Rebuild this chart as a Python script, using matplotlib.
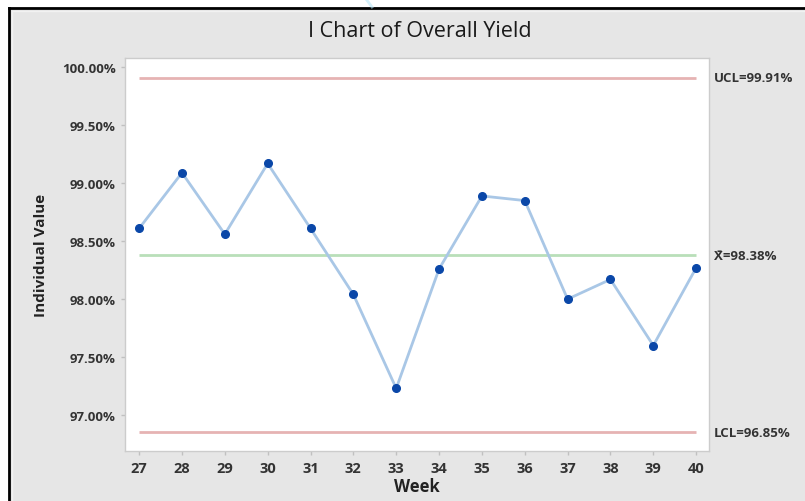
import matplotlib
matplotlib.use("Agg")
import matplotlib.pyplot as plt
from matplotlib.lines import Line2D
from matplotlib.patches import Rectangle
from matplotlib.ticker import FuncFormatter

weeks = [27, 28, 29, 30, 31, 32, 33, 34, 35, 36, 37, 38, 39, 40]
yield_pct = [98.61, 99.09, 98.56, 99.17, 98.61, 98.04, 97.23, 98.26,
             98.89, 98.85, 98.00, 98.17, 97.60, 98.27]
ucl = 99.91
mean = 98.38
lcl = 96.85
yticks = [97.0, 97.5, 98.0, 98.5, 99.0, 99.5, 100.0]

plt.rcParams['font.family'] = ['Open Sans', 'DejaVu Sans']

fig = plt.figure(figsize=(8.05, 5.02), dpi=100, facecolor='#e6e6e6')

# frame border (black lines on left and top, light inner line)
fig.add_artist(Line2D([9/805, 9/805], [0, 1 - 9/502], transform=fig.transFigure,
                      color='black', lw=2))
fig.add_artist(Line2D([9/805, 1], [1 - 9/502, 1 - 9/502], transform=fig.transFigure,
                      color='black', lw=2))
fig.add_artist(Line2D([12/805, 12/805], [0, 1 - 12/502], transform=fig.transFigure,
                      color='#f2f2f2', lw=1))
fig.add_artist(Line2D([12/805, 1], [1 - 12/502, 1 - 12/502], transform=fig.transFigure,
                      color='#f2f2f2', lw=1))
# white strip above/left of border
fig.add_artist(Rectangle((0, 1 - 8/502), 1, 8/502, transform=fig.transFigure,
                         facecolor='white', edgecolor='none'))
fig.add_artist(Rectangle((0, 0), 8/805, 1, transform=fig.transFigure,
                         facecolor='white', edgecolor='none'))
# faint watermark stroke
fig.add_artist(Line2D([366/805, 372/805], [1.0, 1 - 8/502], transform=fig.transFigure,
                      color='#b8e6f7', lw=2, alpha=0.6))

ax = fig.add_axes([125/805, 1 - 452/502, (709 - 125)/805, (452 - 59)/502])
ax.set_facecolor('white')

ax.hlines([ucl, lcl], weeks[0], weeks[-1], colors='#e6b3b3', lw=2, zorder=1)
ax.hlines([mean], weeks[0], weeks[-1], colors='#b9dfb9', lw=2, zorder=1)
ax.plot(weeks, yield_pct, color='#a9c7e6', lw=2, zorder=2)
ax.plot(weeks, yield_pct, 'o', color='#0a47a8', ms=5.5, zorder=3)

ax.set_xlim(26.67, 40.3)
ax.set_ylim(96.69, 100.08)
ax.set_xticks(weeks)
ax.set_yticks(yticks)
ax.yaxis.set_major_formatter(FuncFormatter(lambda v, p: f"{v:.2f}%"))

for s in ax.spines.values():
    s.set_color('#cccccc')
    s.set_linewidth(1)
ax.tick_params(axis='both', colors='#c0c0c0', length=3, width=1,
               labelcolor='#333333', labelsize=9.5)
ax.tick_params(axis='x', labelsize=10.5, pad=4)
for lab in ax.get_xticklabels() + ax.get_yticklabels():
    lab.set_fontweight('bold')

ax.set_xlabel('Week', fontsize=12, color='#222222', fontweight='bold', labelpad=2)
ax.set_ylabel('Individual Value', fontsize=11, color='#222222', fontweight='bold',
              labelpad=10)

fig.text(420/805, 1 - 32/502, 'I Chart of Overall Yield', ha='center', va='center',
         fontsize=15.5, color='#1a1a1a')

for val, txt in [(ucl, f'UCL={ucl:.2f}%'), (mean, f'X\u0304={mean:.2f}%'),
                 (lcl, f'LCL={lcl:.2f}%')]:
    ax.text(1.0 + 5/584, val, txt, transform=ax.get_yaxis_transform(),
            ha='left', va='center', fontsize=9.5, color='#333333',
            fontweight='bold', clip_on=False)

fig.savefig('out.png', dpi=100, facecolor=fig.get_facecolor())
